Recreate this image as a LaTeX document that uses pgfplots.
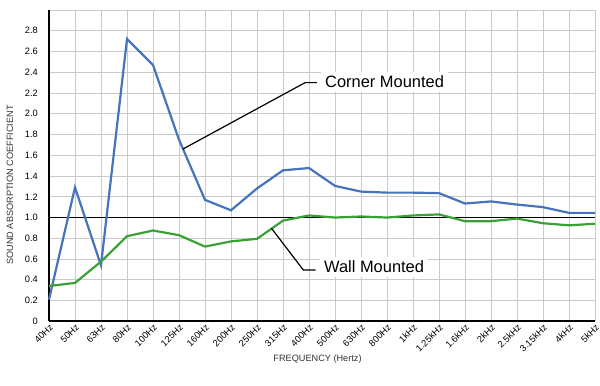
\documentclass[border=0pt]{standalone}
\usepackage{pgfplots}
\pgfplotsset{compat=1.18}
\usepackage{fontspec}
\setmainfont{Liberation Sans}
\definecolor{cblue}{HTML}{4674BA}
\definecolor{cgreen}{HTML}{3AA136}
\definecolor{cgrid}{HTML}{CACACA}
\begin{document}
\begin{tikzpicture}[x=1bp,y=1bp]
\useasboundingbox (0,0) rectangle (600,385);
\begin{axis}[
  at={(49bp,63.7bp)}, anchor=south west,
  scale only axis, width=546bp, height=311.3bp,
  xmin=0, xmax=21, ymin=0, ymax=3,
  clip=false,
  axis lines=left,
  axis line style={-, black, line width=1.8bp},
  major tick length=0pt,
  grid=major,
  major grid style={cgrid, line width=0.9bp},
  xtick={0,...,21},
  xticklabels={40Hz,50Hz,63Hz,80Hz,100Hz,125Hz,160Hz,200Hz,250Hz,315Hz,400Hz,500Hz,630Hz,800Hz,1kHz,1.25kHz,1.6kHz,2kHz,2.5kHz,3.15kHz,4kHz,5kHz},
  ytick={0,0.2,...,3.01},
  yticklabels={0,0.2,0.4,0.6,0.8,1.0,1.2,1.4,1.6,1.8,2.0,2.2,2.4,2.6,2.8,{}},
  /pgf/number format/assume math mode=true,
  ticklabel style={font=\fontsize{9.3}{10.5}\selectfont, text=black},
  xticklabel style={rotate=45, anchor=north east, inner sep=1.5bp},
  yticklabel style={inner sep=1bp, xshift=-10bp},
  xlabel={FREQUENCY (Hertz)},
  ylabel={SOUND ABSORPTION COEFFICIENT},
  label style={font=\fontsize{9.2}{11}\selectfont, text=black!80},
  xlabel style={at={(axis description cs:0.4918,-0.121)}, anchor=center},
  ylabel style={at={(axis description cs:-0.0714,0.438)}, anchor=center, rotate=0},
]
\addplot[black, line width=1.7bp] coordinates {(0,1) (21,1)};
\addplot[cblue, line width=2.2bp] coordinates {
(0,0.21) (1,1.29) (2,0.54) (3,2.72) (4,2.47) (5,1.75) (6,1.17) (7,1.07) (8,1.28) (9,1.455) (10,1.477) (11,1.305) (12,1.25) (13,1.24) (14,1.24) (15,1.235) (16,1.135) (17,1.155) (18,1.125) (19,1.10) (20,1.045) (21,1.045)};
\addplot[cgreen, line width=2.2bp] coordinates {
(0,0.34) (1,0.37) (2,0.575) (3,0.82) (4,0.875) (5,0.83) (6,0.72) (7,0.77) (8,0.795) (9,0.97) (10,1.02) (11,1.0) (12,1.01) (13,1.0) (14,1.02) (15,1.03) (16,0.965) (17,0.965) (18,0.99) (19,0.945) (20,0.925) (21,0.94)};
\draw[black, line width=1.2bp] (axis cs:5.15,1.66) -- (axis cs:9.85,2.30) -- (axis cs:10.3,2.30);
\draw[black, line width=1.2bp] (axis cs:8.56,0.895) -- (axis cs:9.78,0.495) -- (axis cs:10.25,0.495);
\node[fill=white, anchor=west, inner sep=4bp, font=\fontsize{16.5}{18}\selectfont] at (axis cs:10.46,2.306) {Corner Mounted};
\node[fill=white, anchor=west, inner sep=4bp, font=\fontsize{16.5}{18}\selectfont] at (axis cs:10.42,0.523) {Wall Mounted};
\end{axis}
\end{tikzpicture}
\end{document}
